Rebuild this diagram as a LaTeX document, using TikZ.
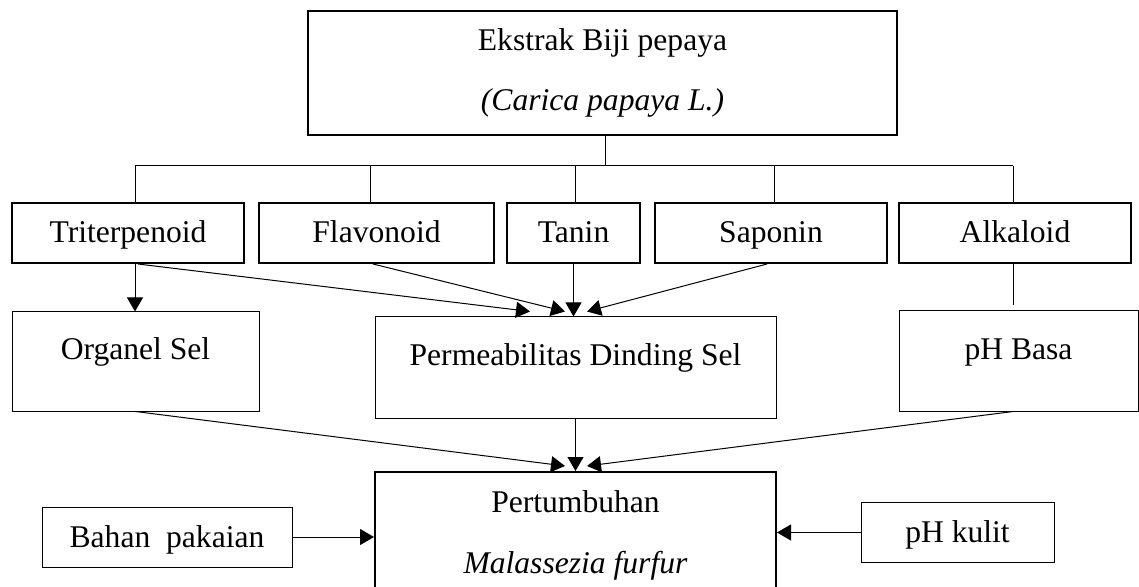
\documentclass[tikz,border=0pt]{standalone}
\usepackage{fontspec}
\setmainfont{Liberation Serif}
\usetikzlibrary{positioning,calc,arrows.meta}
\tikzstyle{root} = [draw, line width=1pt, minimum width=294.5pt, minimum height=62pt, align=center, inner sep=0pt]
\tikzstyle{cmpd} = [draw, line width=1pt, minimum height=30pt, text height=11pt, text depth=1pt, inner sep=0pt]
\tikzstyle{effect} = [draw, line width=0.5pt, text height=11pt, text depth=13pt, inner sep=0pt]
\tikzstyle{target} = [draw, line width=1pt, minimum width=200.5pt, minimum height=63pt, align=center, inner sep=0pt]
\tikzstyle{factor} = [draw, line width=0.5pt, minimum height=30pt, text height=11pt, text depth=1pt, inner sep=0pt]
\tikzstyle{link} = [line width=0.5pt]
\tikzstyle{arr} = [line width=0.5pt, -{Triangle[length=7pt,width=8pt]}]

\begin{document}
\begin{tikzpicture}[x=0.5pt, y=-0.5pt, font=\fontsize{15.8}{19}\selectfont]
\useasboundingbox (0,0) rectangle (1139,587);

% Define nodes
\node[root] (top) at (602.5,73) {Ekstrak Biji pepaya\\[11pt]\textit{(Carica papaya L.)}};

\node[cmpd, minimum width=116pt]                       (tri)  at (128,233) {Triterpenoid};
\node[cmpd, minimum width=117.5pt, right=6.5pt of tri]  (flav) {Flavonoid};
\node[cmpd, minimum width=66.5pt, right=5.5pt of flav]  (tan)  {Tanin};
\node[cmpd, minimum width=116pt, right=6.5pt of tan]    (sap)  {Saponin};
\node[cmpd, minimum width=116pt, right=5pt of sap]      (alk)  {Alkaloid};

\node[effect, minimum width=123.5pt, minimum height=49.5pt] (org)  at (135.5,361.5) {Organel Sel};
\node[effect, minimum width=200.5pt, minimum height=50.5pt] (perm) at (575.5,367.5) {Permeabilitas Dinding Sel};
\node[effect, minimum width=119.5pt, minimum height=50pt]   (basa) at (1018.5,361)  {pH Basa};

\node[target] (pert) at (575.5,535) {Pertumbuhan\\[11.5pt]\textit{Malassezia furfur}};
\node[factor, minimum width=125pt]   (bahan) at (167,537)   {Bahan \ pakaian};
\node[factor, minimum width=96.5pt]  (kulit) at (957.5,532.5) {pH kulit};

% Bus
\coordinate (j0) at (605,135);
\coordinate (j1) at (135,166);
\coordinate (j2) at (370,166);
\coordinate (j3) at (575,166);
\coordinate (j4) at (774,166);
\coordinate (j5) at (1013,166);

% Edges
\draw[link] (j0) -- (j0 |- j1);
\draw[link] (j1) -- (j5);
\foreach \j/\n in {j1/tri, j2/flav, j3/tan, j4/sap, j5/alk}
  \draw[link] (\j) -- (\j |- \n.north);

\draw[arr] (j1 |- tri.south) -- (j1 |- org.north);
\draw[arr] ($(tri.south)+(10,0)$) -- ($(perm.north)+(-45.5,-5)$);
\draw[arr] ($(flav.south)+(-3.5,0)$) -- ($(perm.north)+(-10.5,-5)$);
\draw[arr] (tan.south) -- (tan.south |- perm.north);
\draw[arr] ($(sap.south)+(-4,0)$) -- ($(perm.north)+(11.5,-5)$);
\draw[link] (j5 |- alk.south) -- ($(j5 |- basa.north)+(0,-5)$);

\draw[arr] (org.south) -- ($(pert.north)+(-10.5,-5)$);
\draw[arr] (perm.south) -- (pert.north);
\draw[arr] ($(basa.south)+(-5.5,0)$) -- ($(pert.north)+(11.5,-5)$);

\draw[arr] (bahan.east) -- (bahan.east -| pert.west);
\draw[arr] (kulit.west) -- (kulit.west -| pert.east);
\end{tikzpicture}
\end{document}
